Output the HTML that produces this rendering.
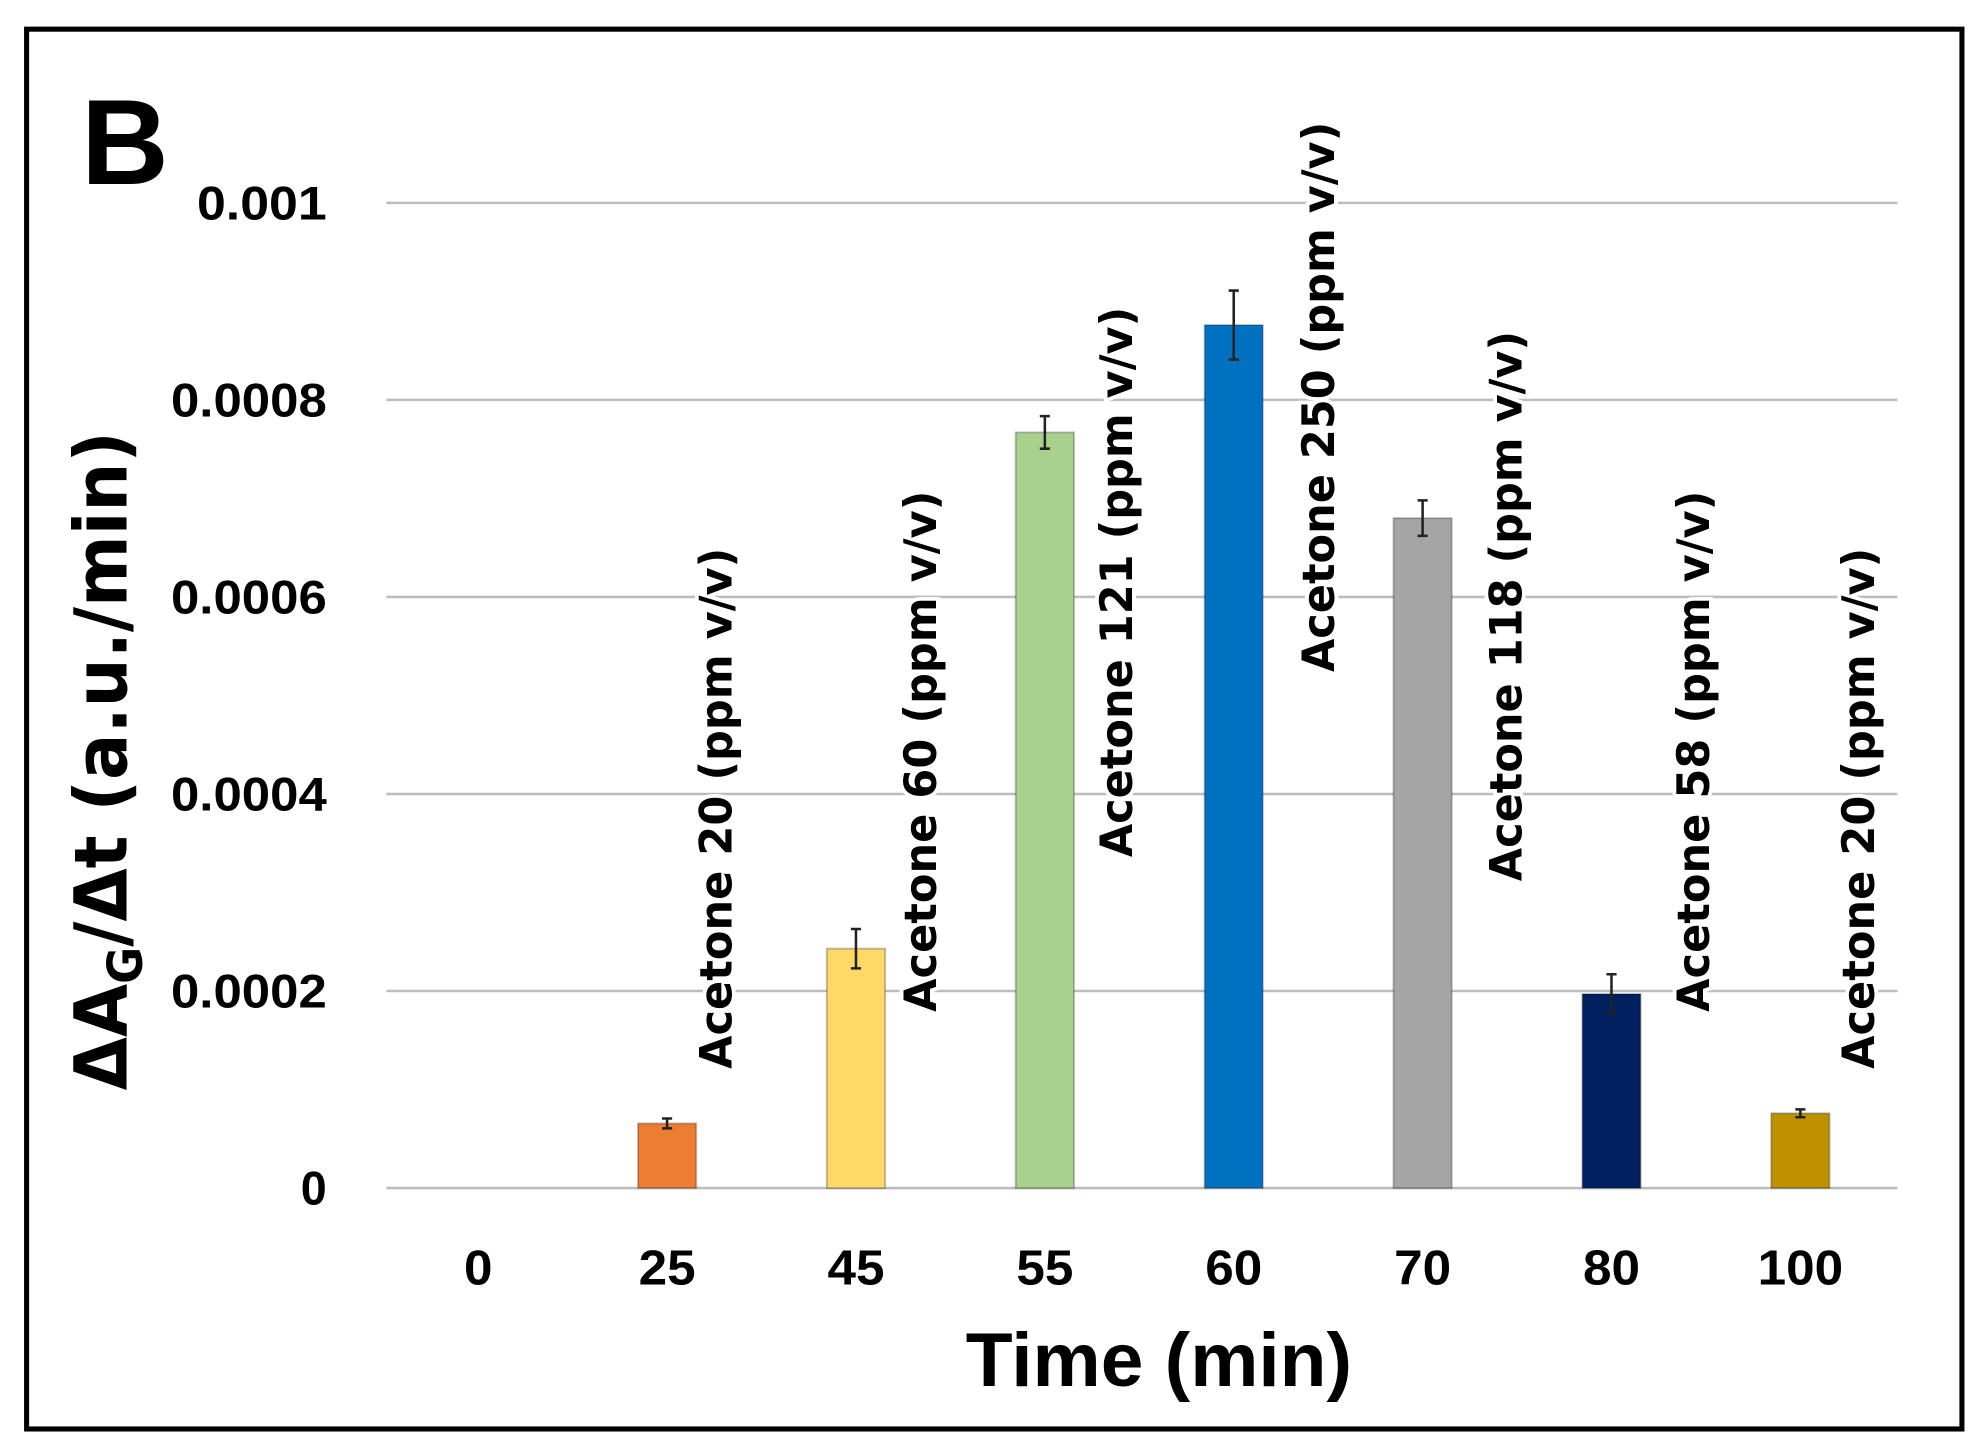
<!DOCTYPE html>
<html><head><meta charset="utf-8"><style>
html,body{margin:0;padding:0;background:#fff;}
svg{display:block;}
text{font-family:"DejaVu Sans","Liberation Sans",sans-serif;font-weight:bold;fill:#000;}
</style></head><body>
<svg id="chart" width="1986" height="1448" viewBox="0 0 1568 1142" preserveAspectRatio="none" xmlns="http://www.w3.org/2000/svg">
<rect x="21" y="23" width="1528" height="1104" fill="#fff" stroke="#000" stroke-width="4"/>
<text x="64" y="145" font-size="96" style="font-family:'Liberation Sans',sans-serif">B</text>
<g id="grid"></g><g id="bars"></g><g id="labels"></g>
<text x="915" y="1093" font-size="60" text-anchor="middle" textLength="305" lengthAdjust="spacingAndGlyphs" style="font-family:'Liberation Sans',sans-serif">Time (min)</text>
<text transform="translate(100,600) rotate(-90)" font-size="58" text-anchor="middle" textLength="520" lengthAdjust="spacingAndGlyphs">ΔA<tspan font-size="38" dy="12">G</tspan><tspan dy="-12">/Δt (a.u./min)</tspan></text>
</svg>
<script>
const categories=["0","25","45","55","60","70","80","100"];
const values=[0,0.0000656,0.000243,0.000767,0.000876,0.00068,0.000197,0.0000759];
const errors=[0,0.000005,0.00002,0.0000165,0.000035,0.000018,0.00002,0.000004];
const concLabels=["","Acetone 20 (ppm v/v)","Acetone 60 (ppm v/v)","Acetone 121 (ppm v/v)","Acetone 250 (ppm v/v)","Acetone 118 (ppm v/v)","Acetone 58 (ppm v/v)","Acetone 20 (ppm v/v)"];
const yTicks=[0,0.0002,0.0004,0.0006,0.0008,0.001];
const yTickLabels=["0","0.0002","0.0004","0.0006","0.0008","0.001"];
const colors=["#ED7D31","#ED7D31","#FFD966","#A9D18E","#0070C0","#A5A5A5","#002060","#BF9000"];
const labelDx=[0,51,63,69,79,78,77,58];
const labelStart=[0,843,798,676,530,695,798,843];
const NS="http://www.w3.org/2000/svg";
const x0=305,x1=1498,yBase=937,yTop=160;
const band=(x1-x0)/categories.length;
const xs=i=>x0+band*(i+0.5)-2;
const ys=v=>yBase-(v/0.001)*(yBase-yTop);
function mk(tag,attrs,parent,txt){const e=document.createElementNS(NS,tag);for(const k in attrs)e.setAttribute(k,attrs[k]);if(txt!==undefined)e.textContent=txt;parent.appendChild(e);return e;}
const grid=document.getElementById('grid'),bars=document.getElementById('bars'),labels=document.getElementById('labels');
yTicks.forEach((t,i)=>{
 const l=mk('line',{x1:x0,x2:x1,y1:ys(t),y2:ys(t),stroke:'#bdbdbd','stroke-width':2},grid);
 
 
 const w=yTickLabels[i].length*20.5;
 const tx=mk('text',{x:258,y:ys(t)+13,'font-size':37,'text-anchor':'end',textLength:w,lengthAdjust:'spacingAndGlyphs',style:"font-family:'Liberation Sans',sans-serif"},grid,yTickLabels[i]);
 
 
});
categories.forEach((c,i)=>{
 const cx=xs(i);
 const tx=mk('text',{x:cx,y:1013,'font-size':39,'text-anchor':'middle',textLength:c.length*22.5,lengthAdjust:'spacingAndGlyphs',style:"font-family:'Liberation Sans',sans-serif"},grid,c);
 
 
 if(values[i]>0){
  const r=mk('rect',{x:cx-23,y:ys(values[i]),width:46,height:yBase-ys(values[i]),fill:colors[i],stroke:'rgba(0,0,0,0.25)','stroke-width':1.5},bars);
  
  
  const eh=ys(values[i]+errors[i]),el=ys(values[i]-errors[i]);
  const g=mk('path',{d:`M${cx},${eh}V${el}M${cx-4},${eh}H${cx+4}M${cx-4},${el}H${cx+4}`,stroke:'#222','stroke-width':2,fill:'none'},bars);
  
  
  const lx=cx+labelDx[i];
  const len=concLabels[i].length>20?434:411;
  const t=mk('text',{transform:`translate(${lx},${labelStart[i]}) rotate(-90)`,'font-size':35,textLength:len,lengthAdjust:'spacingAndGlyphs',stroke:'#fff','stroke-width':6,'paint-order':'stroke'},labels,concLabels[i]);
  
  
 }
});
</script>
</body></html>
